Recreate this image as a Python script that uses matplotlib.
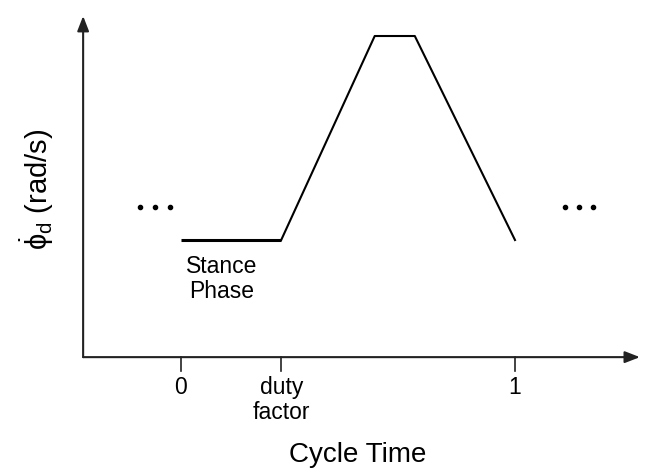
import matplotlib.pyplot as plt

plt.rcParams['font.family'] = ['Liberation Sans', 'DejaVu Sans']
plt.rcParams['mathtext.fontset'] = 'custom'
plt.rcParams['mathtext.rm'] = 'Liberation Sans'
plt.rcParams['mathtext.it'] = 'Liberation Sans:italic'

# desired joint velocity profile over one gait cycle
stance_x = [0.0, 0.3]
stance_y = [0.0, 0.0]
swing_x = [0.3, 0.58, 0.70, 1.0]
swing_y = [0.0, 1.0, 1.0, 0.0]

tick_pos = [0.0, 0.3, 1.0]
tick_labels = ["0", "duty\nfactor", "1"]

dots_left = [-0.123, -0.078, -0.033]
dots_right = [1.150, 1.192, 1.234]
dots_y = 0.16

x_axis_y = -0.574
y_axis_x = -0.293

fig = plt.figure(figsize=(6.52, 4.72), dpi=100)
ax = fig.add_axes([0, 0, 1, 1])
ax.set_xlim(-0.5419, 1.4102)
ax.set_ylim(-1.137, 1.1765)
ax.axis("off")

# axes with arrow heads
arrow = dict(arrowstyle="-|>,head_length=0.9,head_width=0.35", color="#222222", lw=1.5,
             shrinkA=0, shrinkB=0)
ax.annotate("", xy=(1.374, x_axis_y), xytext=(y_axis_x, x_axis_y), arrowprops=arrow)
ax.annotate("", xy=(y_axis_x, 1.098), xytext=(y_axis_x, x_axis_y), arrowprops=arrow)

# ticks and their labels
for x, lab in zip(tick_pos, tick_labels):
    ax.plot([x, x], [x_axis_y, x_axis_y - 0.07], color="#222222", lw=1.2)
    ax.text(x, -0.665, lab, ha="center", va="top", fontsize=16.5,
            linespacing=1.1)

ax.plot(stance_x, stance_y, color="black", lw=2.2, solid_capstyle="butt")
ax.plot(swing_x, swing_y, color="black", lw=1.5)

ax.scatter(dots_left, [dots_y] * 3, s=9, color="black")
ax.scatter(dots_right, [dots_y] * 3, s=9, color="black")

ax.text(0.123, -0.075, "Stance\nPhase", ha="center", va="top", fontsize=16.5,
        linespacing=1.12)

ax.text(0.53, -1.054, "Cycle Time", ha="center", va="center", fontsize=20)
ax.text(-0.43, 0.25, r"$\dot{\mathrm{\phi}}_\mathrm{d}$ (rad/s)", ha="center",
        va="center", rotation=90, fontsize=21)

fig.savefig("out.png", dpi=100)
